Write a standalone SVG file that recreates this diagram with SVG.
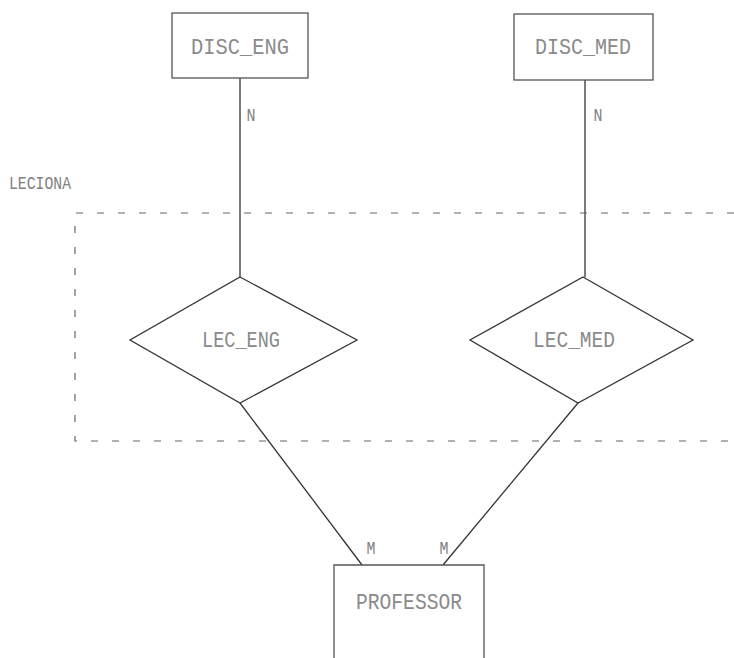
<svg xmlns="http://www.w3.org/2000/svg" width="734" height="658" viewBox="0 0 734 658">
<style>
.box{fill:none;stroke:#555;stroke-width:1.3}
.ln{fill:none;stroke:#333;stroke-width:1.3}
.dash{fill:none;stroke:#666;stroke-width:1.2;stroke-dasharray:7 14}
.t{font-family:"Liberation Mono","DejaVu Sans Mono",monospace;font-size:22px;fill:#8a8a8a;text-anchor:middle}
.s{font-family:"Liberation Mono","DejaVu Sans Mono",monospace;font-size:18px;fill:#808080;text-anchor:middle}
</style>
<rect width="734" height="658" fill="#fff"/>
<g id="connectors">
<line class="ln" x1="240" y1="78" x2="240" y2="277"/>
<line class="ln" x1="585" y1="80" x2="585" y2="277"/>
<line class="ln" x1="240" y1="403" x2="362" y2="565"/>
<line class="ln" x1="578" y1="403" x2="443" y2="565"/>
<text class="s" x="251" y="121" textLength="9" lengthAdjust="spacingAndGlyphs">N</text>
<text class="s" x="598" y="121" textLength="9" lengthAdjust="spacingAndGlyphs">N</text>
<text class="s" x="371" y="554" textLength="9" lengthAdjust="spacingAndGlyphs">M</text>
<text class="s" x="444" y="554" textLength="9" lengthAdjust="spacingAndGlyphs">M</text>
</g>
<g id="leciona">
<polyline class="dash" points="734,213 75,213 75,441 734,441"/>
<text class="s" x="40" y="189" textLength="62" lengthAdjust="spacingAndGlyphs">LECIONA</text>
</g>
<g id="disc_eng">
<rect class="box" x="172" y="13" width="136" height="65"/>
<text class="t" x="240" y="54" textLength="98" lengthAdjust="spacingAndGlyphs">DISC_ENG</text>
</g>
<g id="disc_med">
<rect class="box" x="514" y="14" width="139" height="66"/>
<text class="t" x="583" y="54" textLength="96" lengthAdjust="spacingAndGlyphs">DISC_MED</text>
</g>
<g id="lec_eng">
<polygon class="ln" points="240,277 357,340 240,403 130,340"/>
<text class="t" x="241" y="347" textLength="78" lengthAdjust="spacingAndGlyphs">LEC_ENG</text>
</g>
<g id="lec_med">
<polygon class="ln" points="583,277 693,340 578,403 470,340"/>
<text class="t" x="574" y="347" textLength="82" lengthAdjust="spacingAndGlyphs">LEC_MED</text>
</g>
<g id="professor">
<polyline class="box" points="334,658 334,565 484,565 484,658"/>
<text class="t" x="409" y="609" textLength="106" lengthAdjust="spacingAndGlyphs">PROFESSOR</text>
</g>
</svg>
